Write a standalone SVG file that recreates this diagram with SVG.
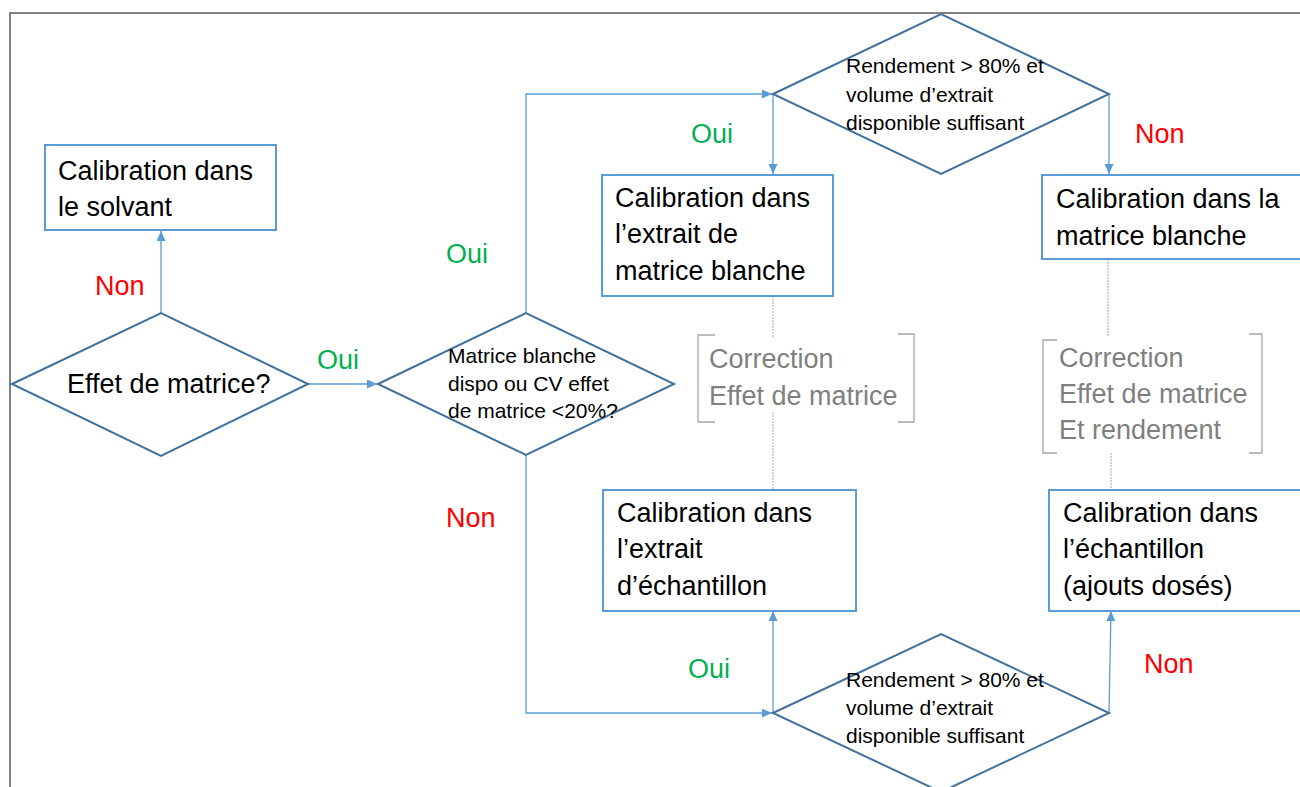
<svg xmlns="http://www.w3.org/2000/svg" width="1300" height="787" viewBox="0 0 1300 787">
<defs>
<style>
.box{fill:#fff;stroke:#5b9bd5;stroke-width:2}
.dia{fill:#fff;stroke:#41719c;stroke-width:2}
.conn{fill:none;stroke:#5b9bd5;stroke-width:1.3}
.dot{fill:none;stroke:#a6a6a6;stroke-width:1;stroke-dasharray:2 1}
.brk{fill:none;stroke:#a6a6a6;stroke-width:1.3}
.t{font-family:"Liberation Sans",Arial,sans-serif;font-size:27px;fill:#000}
.s{font-family:"Liberation Sans",Arial,sans-serif;font-size:21px;fill:#000}
.g{font-family:"Liberation Sans",Arial,sans-serif;font-size:27px;fill:#7f7f7f}
.oui{font-family:"Liberation Sans",Arial,sans-serif;font-size:27px;fill:#00b050}
.non{font-family:"Liberation Sans",Arial,sans-serif;font-size:27px;fill:#ff0000}
</style>
<marker id="arr" markerUnits="userSpaceOnUse" markerWidth="12" markerHeight="10" refX="10" refY="4.5" orient="auto">
<path d="M0,0 L10,4.5 L0,9 z" fill="#5b9bd5"/>
</marker>
</defs>
<rect width="1300" height="787" fill="#fff"/>
<path d="M10,787 V13 H1300" fill="none" stroke="#595959" stroke-width="1.5"/>

<g id="connectors">
<path class="conn" d="M161,313 V231" marker-end="url(#arr)"/>
<path class="conn" d="M308,384 H377" marker-end="url(#arr)"/>
<path class="conn" d="M526,313 V94 H772" marker-end="url(#arr)"/>
<path class="conn" d="M526,455 V713 H772" marker-end="url(#arr)"/>
<path class="conn" d="M773,94 V174" marker-end="url(#arr)"/>
<path class="conn" d="M1109,94 V174" marker-end="url(#arr)"/>
<path class="conn" d="M773,713 V611" marker-end="url(#arr)"/>
<path class="conn" d="M1109,713 L1111,611" marker-end="url(#arr)"/>
<path class="dot" d="M773,296 V337 M773,412 V490 M1108,259 V336 M1111,453 V490"/>
<text class="non" x="95" y="295">Non</text>
<text class="oui" x="317" y="369">Oui</text>
<text class="oui" x="446" y="263">Oui</text>
<text class="non" x="446" y="527">Non</text>
<text class="oui" x="691" y="143">Oui</text>
<text class="non" x="1135" y="143">Non</text>
<text class="oui" x="688" y="678">Oui</text>
<text class="non" x="1144" y="673">Non</text>
</g>

<g id="solvant">
<rect class="box" x="45" y="145" width="231" height="85"/>
<text class="t" x="58" y="180">Calibration dans</text>
<text class="t" x="58" y="216">le solvant</text>
</g>

<g id="effet">
<polygon class="dia" points="12,384 161,313 308,384 161,456"/>
<text class="t" x="67" y="393">Effet de matrice?</text>
</g>

<g id="blanche-dispo">
<polygon class="dia" points="378,384 526,313 674,384 526,455"/>
<text class="s" x="448" y="363">Matrice blanche</text>
<text class="s" x="448" y="391">dispo ou CV effet</text>
<text class="s" x="448" y="418">de matrice &lt;20%?</text>
</g>

<g id="rendement-haut">
<polygon class="dia" points="773,94 941,14 1109,94 941,174"/>
<text class="s" x="846" y="73">Rendement &gt; 80% et</text>
<text class="s" x="846" y="102">volume d’extrait</text>
<text class="s" x="846" y="130">disponible suffisant</text>
</g>

<g id="extrait-matrice-blanche">
<rect class="box" x="602" y="175" width="231" height="121"/>
<text class="t" x="615" y="207">Calibration dans</text>
<text class="t" x="615" y="243">l’extrait de</text>
<text class="t" x="615" y="280">matrice blanche</text>
</g>

<g id="matrice-blanche">
<rect class="box" x="1042" y="175" width="270" height="84"/>
<text class="t" x="1056" y="208">Calibration dans la</text>
<text class="t" x="1056" y="245">matrice blanche</text>
</g>

<g id="correction-1">
<path class="brk" d="M715,335 H698 V422 H715 M898,334 H914 V422 H898"/>
<text class="g" x="709" y="368">Correction</text>
<text class="g" x="709" y="405">Effet de matrice</text>
</g>

<g id="correction-2">
<path class="brk" d="M1057,340 H1043 V453 H1057 M1249,334 H1262 V453 H1249"/>
<text class="g" x="1059" y="367">Correction</text>
<text class="g" x="1059" y="403">Effet de matrice</text>
<text class="g" x="1059" y="439">Et rendement</text>
</g>

<g id="extrait-echantillon">
<rect class="box" x="603" y="490" width="253" height="121"/>
<text class="t" x="617" y="522">Calibration dans</text>
<text class="t" x="617" y="558">l’extrait</text>
<text class="t" x="617" y="595">d’échantillon</text>
</g>

<g id="echantillon">
<rect class="box" x="1049" y="490" width="270" height="121"/>
<text class="t" x="1063" y="522">Calibration dans</text>
<text class="t" x="1063" y="558">l’échantillon</text>
<text class="t" x="1063" y="595">(ajouts dosés)</text>
</g>

<g id="rendement-bas">
<polygon class="dia" points="773,713 941,634 1109,713 941,792"/>
<text class="s" x="846" y="687">Rendement &gt; 80% et</text>
<text class="s" x="846" y="715">volume d’extrait</text>
<text class="s" x="846" y="743">disponible suffisant</text>
</g>
</svg>
